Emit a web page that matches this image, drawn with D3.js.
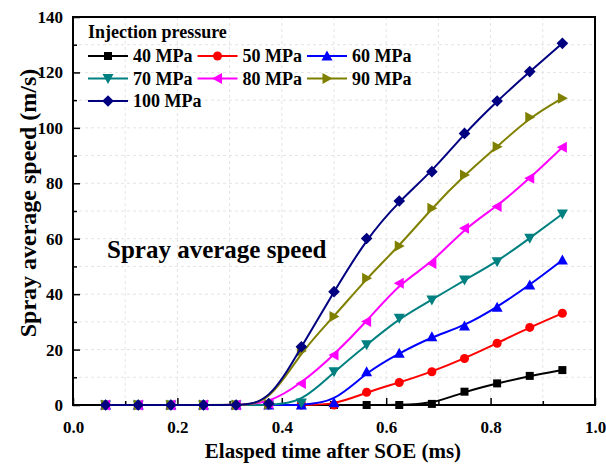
<!DOCTYPE html>
<html><head><meta charset="utf-8">
<script src="https://cdn.jsdelivr.net/npm/d3@7"></script>
<style>
html,body{margin:0;padding:0;background:#fff;}
svg text{font-family:"Liberation Serif","Times New Roman",Times,"DejaVu Serif",serif !important;font-weight:bold;fill:#000;}
</style></head>
<body><svg id="c" width="606" height="465"></svg>
<script>
// ---- data ----
const times = [0.0625,0.125,0.1875,0.25,0.3125,0.375,0.4375,0.5,0.5625,0.625,0.6875,0.75,0.8125,0.875,0.9375];
const p40  = [0,0,0,0,0,0,0,0,0,0,0.4,4.8,7.8,10.5,12.6];
const p50  = [0,0,0,0,0,0,0,0,4.6,8.1,12.0,16.8,22.3,28.0,33.1];
const p60  = [0,0,0,0,0,0,0,0.8,12.0,18.7,24.6,28.5,35.3,43.3,52.3];
const p70  = [0,0,0,0,0,0,0.7,12.0,21.7,31.3,37.9,45.1,51.7,60.2,68.9];
const p80  = [0,0,0,0,0,0.5,7.8,18.0,30.1,43.9,51.1,63.8,71.6,81.8,93.0];
const p90  = [0,0,0,0,0,0.3,19.5,31.9,45.7,57.4,71.0,83.0,93.2,103.8,110.7];
const p100 = [0,0,0,0,0,0.5,21.0,40.9,60.1,73.6,84.2,98.0,109.7,120.3,130.5];
const seriesNames = ["40 MPa","50 MPa","60 MPa","70 MPa","80 MPa","90 MPa","100 MPa"];
const seriesValues = [p40,p50,p60,p70,p80,p90,p100];
const seriesColors = ["#000000","#ff0000","#0000ff","#008080","#ff00ff","#808000","#000080"];
const seriesMarkers = ["square","circle","up","down","left","right","diamond"];
const xTicks = [0.0,0.2,0.4,0.6,0.8,1.0];
const yTicks = [0,20,40,60,80,100,120,140];
const legendTitle = "Injection pressure";
const annotation = "Spray average speed";
const xTitle = "Elasped time after SOE (ms)";
const yTitle = "Spray average speed (m/s)";

// ---- layout ----
const L=73, R=595, T=17, B=405;
const FONT = '"Liberation Serif","Times New Roman",Times,"DejaVu Serif",serif';
const svg = d3.select("#c");
const x = d3.scaleLinear().domain([0,1]).range([L,R]);
const y = d3.scaleLinear().domain([0,140]).range([B,T]);

// grid
const grid = svg.append("g");
grid.selectAll("line.gx").data(d3.range(1,10).map(i=>i/10)).join("line")
  .attr("x1",d=>x(d)).attr("x2",d=>x(d)).attr("y1",T).attr("y2",B)
  .attr("stroke","#e4e4e4").attr("stroke-width",1).attr("stroke-dasharray","3,3");
grid.selectAll("line.gy").data(d3.range(1,14).map(i=>i*10)).join("line")
  .attr("y1",d=>y(d)).attr("y2",d=>y(d)).attr("x1",L).attr("x2",R)
  .attr("stroke","#e4e4e4").attr("stroke-width",1).attr("stroke-dasharray","3,3");

// axes
const xAxis = d3.axisBottom(x).tickValues(xTicks).tickFormat(d3.format(".1f")).tickSizeInner(-7).tickSizeOuter(0).tickPadding(16);
const xMinor = d3.axisBottom(x).tickValues(d3.range(1,10,2).map(i=>i/10)).tickFormat("").tickSizeInner(-4).tickSizeOuter(0);
const yAxis = d3.axisLeft(y).tickValues(yTicks).tickSizeInner(-7).tickSizeOuter(0).tickPadding(10);
const yMinor = d3.axisLeft(y).tickValues(d3.range(10,140,20)).tickFormat("").tickSizeInner(-4).tickSizeOuter(0);
function styleAxis(g){
  g.attr("font-family",FONT);
  g.select(".domain").remove();
  g.selectAll("line").attr("stroke","#000").attr("stroke-width",1.5);
  g.selectAll("text").style("font-size","17px").attr("fill","#000");
}
svg.append("g").attr("transform",`translate(0,${B})`).call(xAxis).call(styleAxis);
svg.append("g").attr("transform",`translate(0,${B})`).call(xMinor).call(styleAxis);
svg.append("g").attr("transform",`translate(${L},0)`).call(yAxis).call(styleAxis);
svg.append("g").attr("transform",`translate(${L},0)`).call(yMinor).call(styleAxis);

// frame
svg.append("rect").attr("x",L).attr("y",T).attr("width",R-L).attr("height",B-T)
  .attr("fill","none").attr("stroke","#000").attr("stroke-width",2);

// markers
function markerPath(type){
  switch(type){
    case "square": return "M-4,-4H4V4H-4Z";
    case "circle": return d3.symbol(d3.symbolCircle,64)();
    case "up": return "M0,-5.5L5.5,4.5L-5.5,4.5Z";
    case "down": return "M0,5.5L5.5,-4.5L-5.5,-4.5Z";
    case "left": return "M-5.5,0L4.5,-5.5L4.5,5.5Z";
    case "right": return "M5.5,0L-4.5,-5.5L-4.5,5.5Z";
    case "diamond": return "M0,-5.8L5.8,0L0,5.8L-5.8,0Z";
  }
}

// series
const line = d3.line().x(d=>x(d[0])).y(d=>y(d[1])).curve(d3.curveBasis);
const plot = svg.append("g");
seriesValues.forEach((vals,i)=>{
  const pts = times.map((t,j)=>[t,vals[j]]);
  const g = plot.append("g");
  g.append("path").datum(pts).attr("d",line).attr("fill","none")
    .attr("stroke",seriesColors[i]).attr("stroke-width",2);
  g.selectAll("path.m").data(pts).join("path").attr("class","m")
    .attr("d",markerPath(seriesMarkers[i]))
    .attr("transform",d=>`translate(${x(d[0])},${y(d[1])})`)
    .attr("fill",seriesColors[i]);
});

// annotation
svg.append("text").attr("x",107).attr("y",258).style("font-size","25px").text(annotation);

// legend
const lg = svg.append("g");
lg.append("text").attr("x",88).attr("y",38).style("font-size","18px").text(legendTitle);
seriesNames.forEach((name,i)=>{
  const col = i%3, row = Math.floor(i/3);
  const lx = 88 + col*109.5, ly = 56 + row*22.5;
  lg.append("line").attr("x1",lx).attr("x2",lx+40).attr("y1",ly).attr("y2",ly)
    .attr("stroke",seriesColors[i]).attr("stroke-width",2);
  lg.append("path").attr("d",markerPath(seriesMarkers[i]))
    .attr("transform",`translate(${lx+20},${ly})`).attr("fill",seriesColors[i]);
  lg.append("text").attr("x",lx+45).attr("y",ly+6).style("font-size","18px").text(name);
});

// axis titles
svg.append("text").attr("x",(L+R)/2-1).attr("y",458).attr("text-anchor","middle").style("font-size","21px").text(xTitle);
svg.append("text").attr("transform","translate(36,203) rotate(-90)").attr("text-anchor","middle").style("font-size","24px").text(yTitle);
</script></body></html>
